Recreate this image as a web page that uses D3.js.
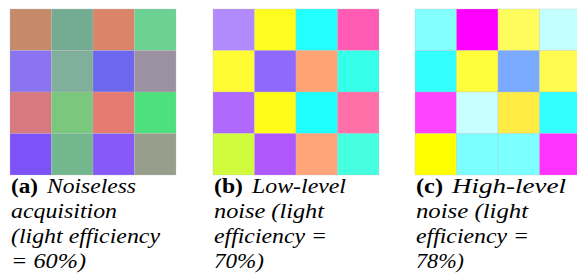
<!DOCTYPE html>
<html>
<head>
<meta charset="utf-8">
<script src="https://cdn.jsdelivr.net/npm/d3@7"></script>
<style>
  body { margin: 0; background: #fff; }
  svg { display: block; }
</style>
</head>
<body>
<svg id="chart" width="577" height="278"></svg>
<script>
const svg = d3.select("#chart");

// panel info
const panelLabels = ["(a)", "(b)", "(c)"];
const captions = [
  ["Noiseless", "acquisition", "(light efficiency", "= 60%)"],
  ["Low-level", "noise (light", "efficiency =", "70%)"],
  ["High-level", "noise (light", "efficiency =", "78%)"]
];

// cell colours, row by row
const noiseless = [
  ["#C68A6A", "#73AC92", "#DC846A", "#6CD293"],
  ["#8A74F0", "#80B09C", "#6D68EE", "#9C91A0"],
  ["#D8787F", "#7AC77E", "#E57A72", "#4FE07E"],
  ["#7D52F9", "#72B78E", "#8659F8", "#979E8B"]
];
const lowNoise = [
  ["#B18AFD", "#FFFC1F", "#22FFFF", "#FF5AB4"],
  ["#FFFC36", "#8F68FC", "#FFA374", "#35FFE8"],
  ["#AF6AFD", "#FFFC19", "#1FFFFF", "#FF6FA8"],
  ["#D1FC3E", "#B057FC", "#FFA378", "#46FFE0"]
];
const highNoise = [
  ["#83FFFF", "#FF00FF", "#FFFC5E", "#C2FFFF"],
  ["#33FFFF", "#FFFE3B", "#7AAAFF", "#FFFB50"],
  ["#FF44FF", "#CAFFFF", "#FFEB44", "#33FFFF"],
  ["#FFFF00", "#7CFFFF", "#7CFFFF", "#FF33FF"]
];
const grids = [noiseless, lowNoise, highNoise];

const panelX = [10, 213, 415];
const gridTop = 9;
const gridSize = 166;

// caption text widths (px) so the lines fill like the original
const labelW = [27, 29, 27];
const lineW = [
  [89, 106, 149, 75],
  [94, 110, 113, 50],
  [114, 112, 113, 48]
];
const fontFam = "'Liberation Serif', 'Times New Roman', serif";

grids.forEach((grid, p) => {
  const g = svg.append("g").attr("transform", `translate(${panelX[p]},${gridTop})`);
  const x = d3.scaleBand().domain(d3.range(4)).range([0, gridSize]);
  const y = d3.scaleBand().domain(d3.range(4)).range([0, gridSize]);

  const cells = grid.flatMap((row, r) => row.map((c, k) => ({ r, k, c })));
  g.selectAll("rect")
    .data(cells)
    .join("rect")
    .attr("x", d => x(d.k))
    .attr("y", d => y(d.r))
    .attr("width", x.bandwidth())
    .attr("height", y.bandwidth())
    .attr("fill", d => d.c)
    .attr("stroke", "rgba(190,190,190,0.5)")
    .attr("stroke-width", 0.6);

  // caption
  const x0 = panelX[p] + 1;
  svg.append("text")
    .attr("x", x0)
    .attr("y", 193)
    .attr("textLength", labelW[p])
    .attr("lengthAdjust", "spacingAndGlyphs")
    .style("font-family", fontFam)
    .style("font-size", "20px")
    .style("font-weight", "bold")
    .style("fill", "#000")
    .text(panelLabels[p]);

  captions[p].forEach((line, i) => {
    const lx = i === 0 ? x0 + labelW[p] + 9 : x0;
    svg.append("text")
      .attr("x", lx)
      .attr("y", 193 + i * 25)
      .attr("textLength", lineW[p][i])
      .attr("lengthAdjust", "spacingAndGlyphs")
      .style("font-family", fontFam)
      .style("font-size", "20px")
      .style("font-style", "italic")
      .style("fill", "#000")
      .text(line);
  });
});
</script>
</body>
</html>
